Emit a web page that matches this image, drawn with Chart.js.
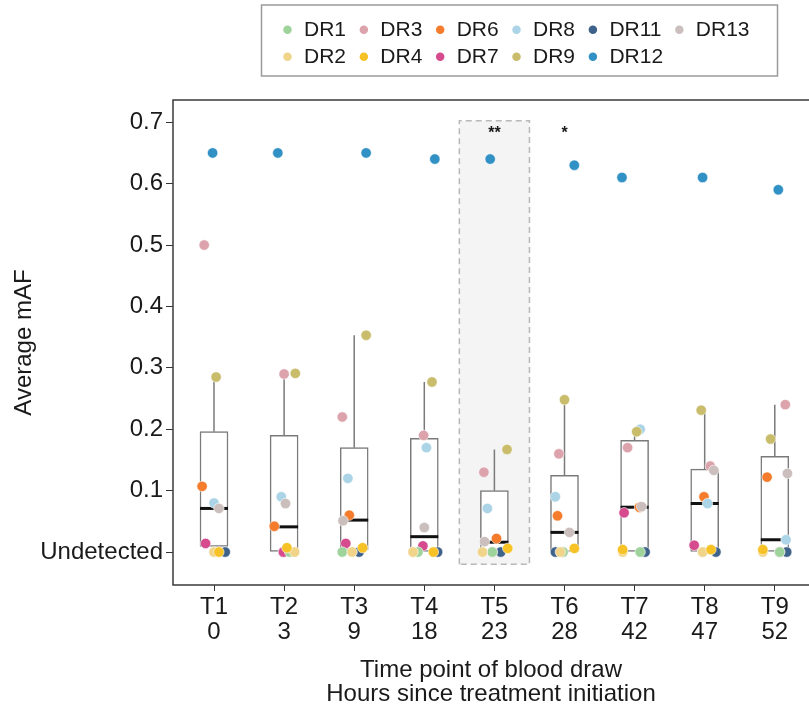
<!DOCTYPE html>
<html>
<head>
<meta charset="utf-8">
<title>Average mAF by time point</title>
<script src="https://cdn.jsdelivr.net/npm/chart.js@4.4.0/dist/chart.umd.min.js"></script>
<style>
  html, body { margin: 0; padding: 0; background: #fff; overflow: hidden; }
  #wrap { width: 809px; height: 717px; position: relative; }
</style>
</head>
<body>
<div id="wrap"><canvas id="mafChart"></canvas></div>
<script>
// --- Data ---
const timeLabels = ['T1', 'T2', 'T3', 'T4', 'T5', 'T6', 'T7', 'T8', 'T9'];
const hoursLabels = ['0', '3', '9', '18', '23', '28', '42', '47', '52'];
const yTickValues = [0, 0.1, 0.2, 0.3, 0.4, 0.5, 0.6, 0.7];
const sigMarks = ['', '', '', '', '**', '*', '', '', ''];

// box plot summary per time point
const whiskerLow  = [0, 0, 0, 0, 0, 0, 0, 0, 0];
const boxQ1       = [0.009, 0, 0.004, 0, 0, 0, 0, 0, 0];
const boxMedian   = [0.071, 0.041, 0.052, 0.025, 0.016, 0.032, 0.073, 0.079, 0.020];
const boxQ3       = [0.196, 0.190, 0.170, 0.185, 0.100, 0.125, 0.182, 0.135, 0.156];
const whiskerHigh = [0.285, 0.290, 0.353, 0.277, 0.167, 0.248, 0.200, 0.231, 0.240];

// average mAF per patient (0 = undetected) and the horizontal jitter of each dot
const dr1  = [0, 0, 0, 0, 0, 0, 0, 0, 0];
const dr1Jitter  = [0.00, 0.08, -0.17, -0.09, -0.03, -0.02, 0.08, -0.03, 0.07];
const dr2  = [0, 0, 0, 0, 0, 0, 0, 0, 0];
const dr2Jitter  = [0.00, 0.15, -0.03, -0.16, -0.17, -0.06, -0.17, -0.03, -0.17];
const dr3  = [0.50, 0.29, 0.22, 0.19, 0.13, 0.16, 0.17, 0.14, 0.24];
const dr3Jitter  = [-0.14, 0.00, -0.17, -0.01, -0.15, -0.08, -0.10, 0.08, 0.15];
const dr4  = [0, 0.007, 0.007, 0, 0.006, 0.006, 0.004, 0.004, 0.004];
const dr4Jitter  = [0.07, 0.04, 0.12, 0.13, 0.19, 0.14, -0.17, 0.09, -0.17];
const dr6  = [0.107, 0.042, 0.060, 0, 0.022, 0.059, 0.073, 0.090, 0.122];
const dr6Jitter  = [-0.17, -0.14, -0.07, -0.16, 0.03, -0.10, 0.07, -0.01, -0.11];
const dr7  = [0.014, 0, 0.014, 0.010, 0, 0, 0.064, 0.011, 0];
const dr7Jitter  = [-0.12, -0.01, -0.12, -0.02, -0.03, -0.02, -0.15, -0.15, 0.07];
const dr8  = [0.080, 0.090, 0.120, 0.170, 0.071, 0.090, 0.200, 0.079, 0.020];
const dr8Jitter  = [0.00, -0.04, -0.09, 0.03, -0.10, -0.13, 0.08, 0.04, 0.16];
const dr9  = [0.285, 0.291, 0.353, 0.277, 0.167, 0.248, 0.196, 0.231, 0.184];
const dr9Jitter  = [0.03, 0.16, 0.17, 0.11, 0.18, 0.00, 0.03, -0.05, -0.06];
const dr11 = [0, 0, 0, 0, 0, 0, 0, 0, 0];
const dr11Jitter = [0.16, -0.01, 0.07, 0.19, 0.09, -0.13, 0.15, 0.16, 0.17];
const dr12 = [0.65, 0.65, 0.65, 0.64, 0.64, 0.63, 0.61, 0.61, 0.59];
const dr12Jitter = [-0.02, -0.09, 0.17, 0.15, -0.06, 0.14, -0.18, -0.03, 0.05];
const dr13 = [0.071, 0.079, 0.051, 0.040, 0.017, 0.032, 0.074, 0.133, 0.128];
const dr13Jitter = [0.07, 0.02, -0.16, 0.00, -0.14, 0.07, 0.10, 0.13, 0.18];

// shaded time point and its extent in data units
const highlightIndex = 4;
const highlightTop = 0.7025;
const highlightBottom = -0.02;
const sigMarkLevel = 0.682;

// legend reads column by column, like the original
const legendOrder = ['DR1', 'DR3', 'DR6', 'DR8', 'DR11', 'DR13', 'DR2', 'DR4', 'DR7', 'DR9', 'DR12'];

// series, listed bottom-most first
const series = [
    { label: 'DR11', values: dr11, jitter: dr11Jitter, color: '#3f628a' },
    { label: 'DR6',  values: dr6,  jitter: dr6Jitter,  color: '#f47c2c' },
    { label: 'DR7',  values: dr7,  jitter: dr7Jitter,  color: '#d64a8e' },
    { label: 'DR1',  values: dr1,  jitter: dr1Jitter,  color: '#9ed49b' },
    { label: 'DR2',  values: dr2,  jitter: dr2Jitter,  color: '#efd48a' },
    { label: 'DR3',  values: dr3,  jitter: dr3Jitter,  color: '#dca3ac' },
    { label: 'DR4',  values: dr4,  jitter: dr4Jitter,  color: '#f6c226' },
    { label: 'DR8',  values: dr8,  jitter: dr8Jitter,  color: '#abd4e6' },
    { label: 'DR9',  values: dr9,  jitter: dr9Jitter,  color: '#c9bd6c' },
    { label: 'DR13', values: dr13, jitter: dr13Jitter, color: '#cbbfbd' },
    { label: 'DR12', values: dr12, jitter: dr12Jitter, color: '#3190c4' }
];

const FONT = "'Liberation Sans', Arial, Helvetica, sans-serif";
const TEXT = '#1a1a1a';
Chart.defaults.font.family = FONT;

const catX = (i) => i + 1;

// --- Datasets ---
const hx = catX(highlightIndex);
const highlightData = [
    { x: hx - 0.5, y: highlightBottom },
    { x: hx - 0.5, y: highlightTop },
    { x: hx + 0.5, y: highlightTop },
    { x: hx + 0.5, y: highlightBottom },
    { x: hx - 0.5, y: highlightBottom }
];

const whiskerData = [];
timeLabels.forEach((_, i) => {
    whiskerData.push({ x: catX(i), y: boxQ3[i] }, { x: catX(i), y: whiskerHigh[i] }, { x: catX(i), y: null });
    whiskerData.push({ x: catX(i), y: whiskerLow[i] }, { x: catX(i), y: boxQ1[i] }, { x: catX(i), y: null });
});

const datasets = [
    {
        type: 'line',
        label: 'highlight',
        data: highlightData,
        borderColor: '#b8b8b8',
        borderWidth: 1.5,
        borderDash: [6, 4],
        backgroundColor: '#f4f4f4',
        fill: 'shape',
        pointRadius: 0,
        tension: 0,
        order: 100
    },
    {
        type: 'line',
        label: 'whiskers',
        data: whiskerData,
        borderColor: '#7a7a7a',
        borderWidth: 1.5,
        pointRadius: 0,
        spanGaps: false,
        fill: false,
        order: 90
    },
    {
        type: 'bar',
        label: 'boxes',
        data: timeLabels.map((_, i) => ({ x: catX(i), y: [boxQ1[i], boxQ3[i]] })),
        backgroundColor: '#ffffff',
        borderColor: '#7a7a7a',
        borderWidth: 1.5,
        borderSkipped: false,
        barThickness: 28,
        order: 80
    },
    {
        type: 'scatter',
        label: 'median',
        data: timeLabels.map((_, i) => ({ x: catX(i), y: boxMedian[i] })),
        pointStyle: 'line',
        pointRadius: 14,
        borderWidth: 3,
        borderColor: '#111111',
        backgroundColor: '#111111',
        order: 70
    }
];

series.forEach((s, k) => {
    datasets.push({
        type: 'scatter',
        label: s.label,
        data: s.values.map((v, i) => ({ x: catX(i) + s.jitter[i], y: v })),
        backgroundColor: s.color,
        borderColor: 'rgba(255,255,255,0.7)',
        borderWidth: 0.8,
        pointRadius: 5.2,
        order: 60 - k
    });
});

// --- Helpers drawn on top of the chart ---
const panelPlugin = {
    id: 'panel',
    beforeDraw(chart) {
        const { ctx, width, height } = chart;
        ctx.save();
        ctx.fillStyle = '#ffffff';
        ctx.fillRect(0, 0, width, height);
        ctx.restore();
        // put the legend inside its framed box
        const lg = chart.legend;
        lg.left = 275.5;
        lg.right = 778;
        lg.top = 13.3;
        lg.bottom = 76;
        lg.width = lg.right - lg.left;
        lg.height = lg.bottom - lg.top;
    },
    afterDatasetsDraw(chart) {
        const { ctx, scales } = chart;
        ctx.save();
        ctx.fillStyle = TEXT;
        ctx.font = 'bold 16px ' + FONT;
        ctx.textAlign = 'center';
        ctx.textBaseline = 'middle';
        sigMarks.forEach((m, i) => {
            if (!m) return;
            ctx.fillText(m, scales.x.getPixelForValue(catX(i)), scales.y.getPixelForValue(sigMarkLevel));
        });
        ctx.restore();
    },
    afterDraw(chart) {
        const { ctx, chartArea: a } = chart;
        ctx.save();
        // panel frame: the right side runs past the picture edge
        ctx.strokeStyle = '#3a3a3a';
        ctx.lineWidth = 1.5;
        ctx.beginPath();
        ctx.moveTo(a.right + 2, a.top);
        ctx.lineTo(a.left, a.top);
        ctx.lineTo(a.left, a.bottom);
        ctx.lineTo(a.right + 2, a.bottom);
        ctx.stroke();
        ctx.strokeStyle = '#9a9a9a';
        ctx.strokeRect(261.5, 5, 516, 71);
        ctx.restore();
    }
};

// --- Chart ---
new Chart(document.getElementById('mafChart'), {
    type: 'scatter',
    data: { datasets },
    options: {
        responsive: true,
        maintainAspectRatio: false,
        animation: false,
        events: [],
        devicePixelRatio: 1,
        layout: { autoPadding: false, padding: { top: 50, right: 0, bottom: 0, left: 0 } },
        plugins: {
            tooltip: { enabled: false },
            legend: {
                display: true,
                position: 'top',
                align: 'start',
                maxHeight: 50,
                labels: {
                    usePointStyle: true,
                    boxWidth: 12,
                    boxHeight: 6,
                    padding: 6,
                    color: TEXT,
                    font: { size: 21 },
                    generateLabels: (chart) => legendOrder.map((name) => {
                        const idx = chart.data.datasets.findIndex((d) => d.label === name);
                        const ds = chart.data.datasets[idx];
                        return {
                            text: name + ' ',
                            fillStyle: ds.backgroundColor,
                            strokeStyle: ds.backgroundColor,
                            lineWidth: 0,
                            pointStyle: 'circle',
                            fontColor: TEXT,
                            hidden: false,
                            datasetIndex: idx
                        };
                    })
                }
            }
        },
        scales: {
            x: {
                type: 'linear',
                offset: false,
                min: 0.415,
                max: 9.488,
                afterBuildTicks: (scale) => {
                    scale.ticks = timeLabels.map((_, i) => ({ value: catX(i) }));
                },
                afterFit: (scale) => { scale.height = 132; },
                ticks: {
                    autoSkip: false,
                    maxRotation: 0,
                    padding: 4,
                    color: TEXT,
                    font: { size: 24, lineHeight: 1.03 },
                    callback: (v) => {
                        const i = Math.round(v) - 1;
                        return [timeLabels[i], hoursLabels[i]];
                    }
                },
                grid: { offset: false, drawOnChartArea: false, drawTicks: true, tickLength: 6, color: '#333333', lineWidth: 1 },
                border: { display: false },
                title: {
                    display: true,
                    text: ['Time point of blood draw', 'Hours since treatment initiation'],
                    color: TEXT,
                    font: { size: 24, lineHeight: 1.0 },
                    padding: { top: 0, bottom: 11 }
                }
            },
            y: {
                type: 'linear',
                offset: false,
                min: -0.0537,
                max: 0.7362,
                afterBuildTicks: (scale) => {
                    scale.ticks = yTickValues.map((v) => ({ value: v }));
                },
                afterFit: (scale) => { scale.width = 173; },
                ticks: {
                    padding: 3,
                    color: TEXT,
                    font: { size: 24 },
                    callback: (v) => (v === 0 ? 'Undetected' : v.toFixed(1))
                },
                grid: { drawOnChartArea: false, drawTicks: true, tickLength: 7, color: '#333333', lineWidth: 1 },
                border: { display: false },
                title: {
                    display: true,
                    text: 'Average mAF',
                    color: TEXT,
                    font: { size: 24 },
                    padding: { top: 10, bottom: 0 }
                }
            }
        }
    },
    plugins: [panelPlugin]
});
</script>
</body>
</html>
